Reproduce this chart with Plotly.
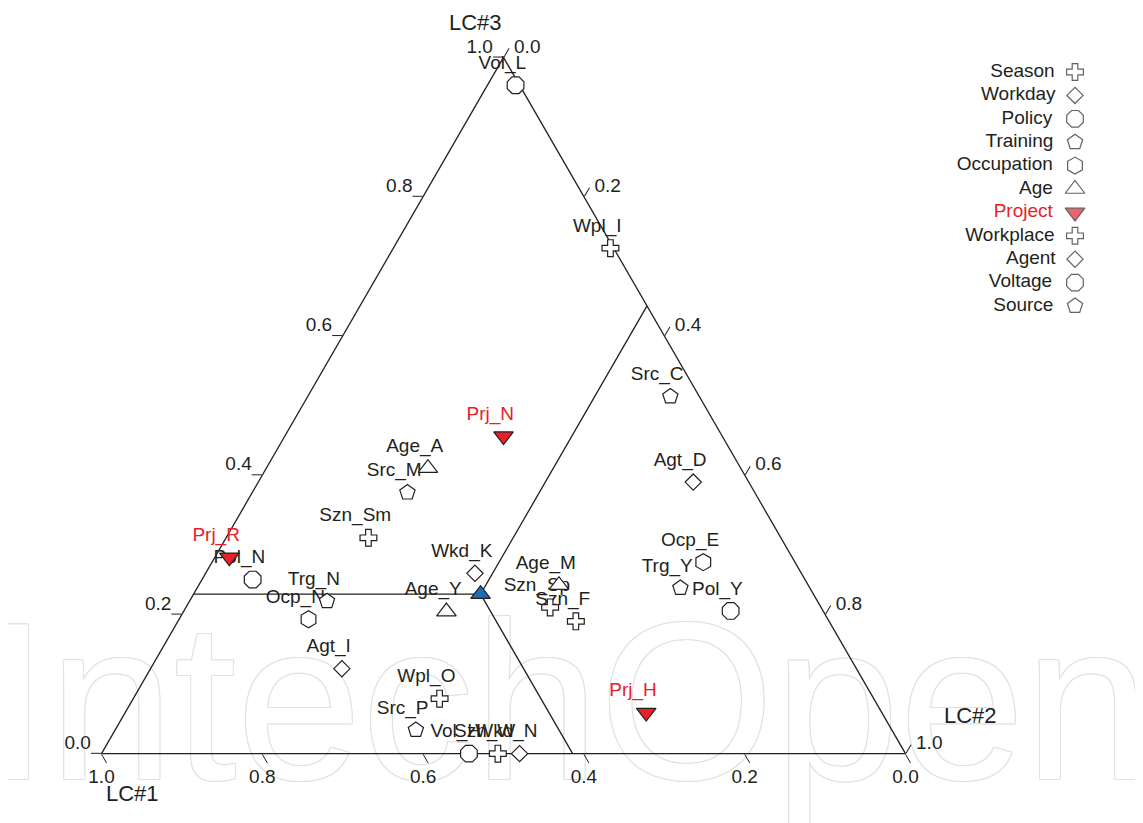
import plotly.graph_objects as go

# ---------------- data: LC#1 (bottom-left), LC#2 (bottom-right), LC#3 (top) ----------------
categories = ["Season", "Workday", "Policy", "Training", "Occupation", "Age",
              "Project", "Workplace", "Agent", "Voltage", "Source"]

season_labels = ["Szn_Sm", "Szn_Sp", "Szn_F", "Szn_W"]
season_lc1 = [0.513, 0.337, 0.315, 0.507]
season_lc2 = [0.177, 0.453, 0.495, 0.493]
season_lc3 = [0.310, 0.210, 0.190, 0.000]

workday_labels = ["Wkd_K", "Wkd_N"]
workday_lc1 = [0.406, 0.480]
workday_lc2 = [0.335, 0.520]
workday_lc3 = [0.259, 0.000]

policy_labels = ["Pol_N", "Pol_Y"]
policy_lc1 = [0.687, 0.115]
policy_lc2 = [0.063, 0.680]
policy_lc3 = [0.250, 0.205]

training_labels = ["Trg_N", "Trg_Y"]
training_lc1 = [0.610, 0.161]
training_lc2 = [0.171, 0.601]
training_lc3 = [0.219, 0.238]

occupation_labels = ["Ocp_N", "Ocp_E"]
occupation_lc1 = [0.646, 0.114]
occupation_lc2 = [0.161, 0.611]
occupation_lc3 = [0.193, 0.275]

age_labels = ["Age_A", "Age_Y", "Age_M"]
age_lc1 = [0.389, 0.469, 0.310]
age_lc2 = [0.201, 0.327, 0.448]
age_lc3 = [0.410, 0.204, 0.242]

project_labels = ["Prj_N", "Prj_R", "Prj_H"]
project_lc1 = [0.272, 0.700, 0.293]
project_lc2 = [0.272, 0.018, 0.648]
project_lc3 = [0.456, 0.282, 0.059]

workplace_labels = ["Wpl_I", "Wpl_O"]
workplace_lc1 = [0.004, 0.540]
workplace_lc2 = [0.270, 0.381]
workplace_lc3 = [0.726, 0.079]

agent_labels = ["Agt_D", "Agt_I"]
agent_lc1 = [0.069, 0.640]
agent_lc2 = [0.541, 0.238]
agent_lc3 = [0.390, 0.122]

voltage_labels = ["Vol_L", "Vol_H"]
voltage_lc1 = [0.005, 0.543]
voltage_lc2 = [0.035, 0.457]
voltage_lc3 = [0.960, 0.000]

source_labels = ["Src_C", "Src_M", "Src_P"]
source_lc1 = [0.036, 0.432, 0.592]
source_lc2 = [0.451, 0.193, 0.374]
source_lc3 = [0.513, 0.375, 0.034]

# central (mean) point through which the reference lines are drawn
center_lc1 = 0.414
center_lc2 = 0.357
center_lc3 = 0.229

tick_values = [0.0, 0.2, 0.4, 0.6, 0.8, 1.0]
axis_titles = ["LC#1", "LC#2", "LC#3"]
watermark_text = "IntechOpen"

# ---------------- page geometry (page body has an 8px margin) ----------------
W, H = 1135, 815
OFF = 8


def px(x):
    return (x - OFF) / W


def py(y):
    return 1 - (y - OFF) / H


FONT = "Liberation Sans, Arial, sans-serif"
INK = "#231f20"
RED = "#e8202a"
BLUE = "#1f6db4"
NB = "\u00a0"

series = {
    "Season": (season_labels, season_lc1, season_lc2, season_lc3),
    "Workday": (workday_labels, workday_lc1, workday_lc2, workday_lc3),
    "Policy": (policy_labels, policy_lc1, policy_lc2, policy_lc3),
    "Training": (training_labels, training_lc1, training_lc2, training_lc3),
    "Occupation": (occupation_labels, occupation_lc1, occupation_lc2, occupation_lc3),
    "Age": (age_labels, age_lc1, age_lc2, age_lc3),
    "Project": (project_labels, project_lc1, project_lc2, project_lc3),
    "Workplace": (workplace_labels, workplace_lc1, workplace_lc2, workplace_lc3),
    "Agent": (agent_labels, agent_lc1, agent_lc2, agent_lc3),
    "Voltage": (voltage_labels, voltage_lc1, voltage_lc2, voltage_lc3),
    "Source": (source_labels, source_lc1, source_lc2, source_lc3),
}

style = {
    "Season": ("cross", 14, "white"),
    "Workday": ("diamond", 12.5, "white"),
    "Policy": ("octagon", 18, "white"),
    "Training": ("pentagon", 16, "white"),
    "Occupation": ("hexagon", 17, "white"),
    "Age": ("triangle-up", 17, "white"),
    "Project": ("triangle-down", 17, RED),
    "Workplace": ("cross", 14, "white"),
    "Agent": ("diamond", 12.5, "white"),
    "Voltage": ("octagon", 18, "white"),
    "Source": ("pentagon", 16, "white"),
}

fig = go.Figure()

# ---------------- watermark (cartesian layer, under the ternary) ----------------
outline = "#e2e2e2"
shadow = ", ".join(f"{dx}px {dy}px 0 {outline}" for dx, dy in
                   [(1, 1), (-1, -1), (1, -1), (-1, 1), (0, 1), (0, -1), (1, 0), (-1, 0)])
fig.add_trace(go.Scatter(
    x=[px(568)], y=[py(723)], mode="text", text=[watermark_text], textposition="middle center",
    textfont=dict(family="Liberation Sans, Arial, sans-serif", size=225, color="white", shadow=shadow),
    hoverinfo="skip", showlegend=False, xaxis="x", yaxis="y", cliponaxis=False))

# ---------------- reference lines through the central point ----------------
fig.add_trace(go.Scatterternary(
    a=[center_lc3, center_lc3, 1 - center_lc2],
    b=[1 - center_lc3, center_lc1, 0.0],
    c=[0.0, center_lc2, center_lc2],
    mode="lines", line=dict(color=INK, width=1.3), hoverinfo="skip", showlegend=False))
fig.add_trace(go.Scatterternary(
    a=[center_lc3, 0.0],
    b=[center_lc1, center_lc1],
    c=[center_lc2, 1 - center_lc1],
    mode="lines", line=dict(color=INK, width=1.3), hoverinfo="skip", showlegend=False))

# ---------------- tick labels (placed along the outward tick direction) ----------------
tick_font = dict(family=FONT, size=19, color=INK)
# LC#3 (left edge)
fig.add_trace(go.Scatterternary(
    a=tick_values, b=[1 - v for v in tick_values], c=[0.0] * len(tick_values),
    mode="text", text=[f"{v:.1f}" + NB * 2 for v in tick_values], textposition="top left",
    textfont=tick_font, hoverinfo="skip", showlegend=False, cliponaxis=False))
# LC#2 (right edge)
fig.add_trace(go.Scatterternary(
    a=[1 - v for v in tick_values], b=[0.0] * len(tick_values), c=tick_values,
    mode="text", text=[NB * 2 + f"{v:.1f}" for v in tick_values], textposition="top right",
    textfont=tick_font, hoverinfo="skip", showlegend=False, cliponaxis=False))
# LC#1 (bottom edge)
fig.add_trace(go.Scatterternary(
    a=[0.0] * len(tick_values), b=tick_values, c=[1 - v for v in tick_values],
    mode="markers+text", text=[f"{v:.1f}" for v in tick_values], textposition="bottom center",
    marker=dict(size=22, color="rgba(0,0,0,0)", line=dict(width=0)),
    textfont=tick_font, hoverinfo="skip", showlegend=False, cliponaxis=False))

# ---------------- point labels ----------------
lab_text, lab_a, lab_b, lab_c, lab_col = [], [], [], [], []
for cat in categories:
    labels, l1, l2, l3 = series[cat]
    for i, lab in enumerate(labels):
        lab_text.append(lab + NB * 5)
        lab_a.append(l3[i]); lab_b.append(l1[i]); lab_c.append(l2[i])
        lab_col.append(RED if cat == "Project" else INK)

fig.add_trace(go.Scatterternary(
    a=lab_a, b=lab_b, c=lab_c, mode="markers+text", text=lab_text,
    textposition="top center",
    textfont=dict(family=FONT, size=19, color=lab_col),
    marker=dict(size=17, color="rgba(0,0,0,0)", line=dict(width=0)),
    hoverinfo="skip", showlegend=False, cliponaxis=False))

# ---------------- markers ----------------
for cat in categories:
    labels, l1, l2, l3 = series[cat]
    sym, size, fill = style[cat]
    fig.add_trace(go.Scatterternary(
        a=l3, b=l1, c=l2, mode="markers", name=cat, text=labels,
        marker=dict(symbol=sym, size=size, color=fill, line=dict(color=INK, width=1.2)),
        showlegend=False, cliponaxis=False))

fig.add_trace(go.Scatterternary(
    a=[center_lc3], b=[center_lc1], c=[center_lc2], mode="markers",
    marker=dict(symbol="triangle-up", size=17, color=BLUE, line=dict(color=INK, width=1.2)),
    showlegend=False, hoverinfo="skip", cliponaxis=False))

# ---------------- custom legend (text left of symbol) ----------------
leg_idx = list(range(len(categories)))
fig.add_trace(go.Scatter(
    x=[0.5] * len(categories), y=leg_idx, mode="markers+text",
    text=[c + NB * 2 for c in categories], textposition="middle left",
    textfont=dict(family=FONT, size=19, color=[RED if c == "Project" else INK for c in categories]),
    marker=dict(symbol=[style[c][0] for c in categories],
                size=[style[c][1] for c in categories],
                color=[style[c][2] for c in categories],
                line=dict(color=INK, width=1.2)),
    xaxis="x2", yaxis="y2", hoverinfo="skip", showlegend=False, cliponaxis=False))

axis_common = dict(
    showgrid=False, showline=True, linecolor=INK, linewidth=1.3,
    ticks="outside", ticklen=10, tickwidth=1.2, tickcolor=INK,
    tickvals=tick_values, showticklabels=False, layer="below traces",
    title=dict(text=""), min=0)

title_font = dict(family=FONT, size=22, color=INK)
fig.update_layout(
    width=W, height=H,
    margin=dict(l=0, r=0, t=0, b=0),
    paper_bgcolor="white", plot_bgcolor="white",
    showlegend=False, hovermode=False,
    font=dict(family=FONT, color=INK),
    ternary=dict(
        domain=dict(x=[px(101.5), px(905.5)], y=[py(755.5) - 0.004, py(55.5) + 0.004]),
        bgcolor="rgba(0,0,0,0)",
        sum=1,
        aaxis=axis_common, baxis=axis_common, caxis=axis_common,
    ),
    xaxis=dict(domain=[0, 1], range=[0, 1], visible=False, fixedrange=True),
    yaxis=dict(domain=[0, 1], range=[0, 1], visible=False, fixedrange=True),
    xaxis2=dict(domain=[px(1030), px(1120)], range=[0, 1], visible=False, anchor="y2"),
    yaxis2=dict(domain=[py(317.7), py(60.3)], range=[10.5, -0.5], visible=False, anchor="x2"),
    annotations=[
        dict(text=axis_titles[2], x=px(475), y=py(22), xref="paper", yref="paper",
             xanchor="center", yanchor="middle", showarrow=False, font=title_font),
        dict(text=axis_titles[0], x=px(132), y=py(793), xref="paper", yref="paper",
             xanchor="center", yanchor="middle", showarrow=False, font=title_font),
        dict(text=axis_titles[1], x=px(970), y=py(715), xref="paper", yref="paper",
             xanchor="center", yanchor="middle", showarrow=False, font=title_font),
    ],
)

fig.write_html("out.html")
